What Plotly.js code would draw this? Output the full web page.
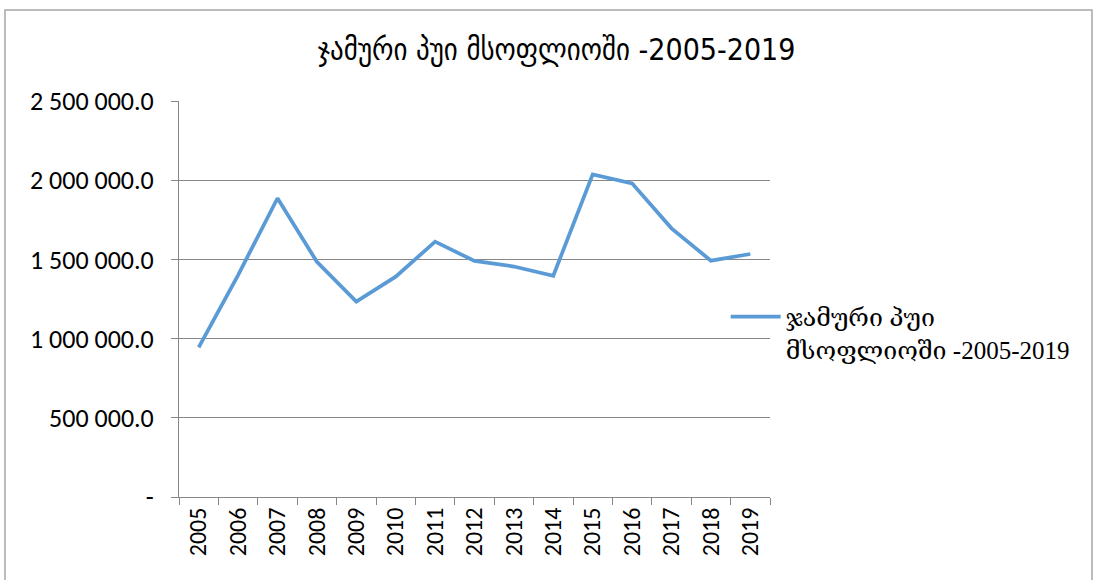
<!DOCTYPE html>
<html>
<head>
<meta charset="utf-8">
<script src="https://cdn.plot.ly/plotly-3.0.1.min.js"></script>
<style>html,body{margin:0;padding:0;background:#fff;}#chart{width:1100px;height:580px;}</style>
</head>
<body>
<div id="chart"></div>
<script>
const years = ['2005','2006','2007','2008','2009','2010','2011','2012','2013','2014','2015','2016','2017','2018','2019'];
const values = [945000, 1401000, 1886000, 1485000, 1233000, 1391000, 1612000, 1490000, 1455000, 1397000, 2037000, 1980000, 1696000, 1492000, 1534000];
const seriesName = 'ჯამური პუი<br>მსოფლიოში -2005-2019';
const titleText = 'ჯამური პუი მსოფლიოში -2005-2019';
const yTickVals = [0, 500000, 1000000, 1500000, 2000000, 2500000];
const yTickText = ['-', '500 000.0', '1 000 000.0', '1 500 000.0', '2 000 000.0', '2 500 000.0'];

const tickFont = {family: 'Carlito, Lato, "Open Sans", sans-serif', size: 26, color: '#000'};
const xTickFont = {family: 'Carlito, Lato, "Open Sans", sans-serif', size: 24, color: '#000'};
const grey = '#878787';

const trace = {
  x: years, y: values, type: 'scatter', mode: 'lines', name: seriesName,
  line: {color: '#5B9BD5', width: 3.75}
};

const layout = {
  width: 1100, height: 580,
  margin: {l: 179, r: 330, t: 101, b: 83},
  paper_bgcolor: '#fff', plot_bgcolor: '#fff',
  showlegend: true,
  title: {
    text: titleText, xref: 'container', yref: 'container', x: 0.506, y: 0.914,
    xanchor: 'center', yanchor: 'middle',
    font: {family: '"DejaVu Sans Condensed", "Liberation Sans Narrow", "DejaVu Sans", sans-serif', size: 30, color: '#000'}
  },
  xaxis: {
    type: 'category', range: [-0.5, 14.5], tickangle: -90, tickfont: xTickFont,
    showgrid: false, showline: true, linecolor: grey, linewidth: 1,
    ticks: 'outside', tickson: 'boundaries', ticklen: 7, tickcolor: grey,
    zeroline: false, fixedrange: true
  },
  yaxis: {
    range: [0, 2500000], tickvals: yTickVals, ticktext: yTickText, tickfont: tickFont,
    showgrid: true, gridcolor: grey, gridwidth: 1,
    showline: true, linecolor: grey, linewidth: 1,
    ticks: 'outside', ticklen: 7, tickcolor: grey, ticklabelstandoff: 12,
    zeroline: false, fixedrange: true
  },
  legend: {
    x: 0.925, xanchor: 'left', y: 0.513, yanchor: 'top', valign: 'top',
    itemwidth: 50,
    bgcolor: 'rgba(0,0,0,0)',
    font: {family: '"Liberation Serif", "DejaVu Serif", serif', size: 25, color: '#000'}
  },
  shapes: [{
    type: 'rect', xref: 'paper', yref: 'paper',
    x0: -0.2944, x1: 1.5448, y0: -0.25, y1: 1.2298,
    line: {color: '#A6A6A6', width: 1.5}, fillcolor: 'rgba(0,0,0,0)', layer: 'below'
  }]
};

Plotly.newPlot('chart', [trace], layout, {displayModeBar: false, staticPlot: true});
</script>
</body>
</html>
